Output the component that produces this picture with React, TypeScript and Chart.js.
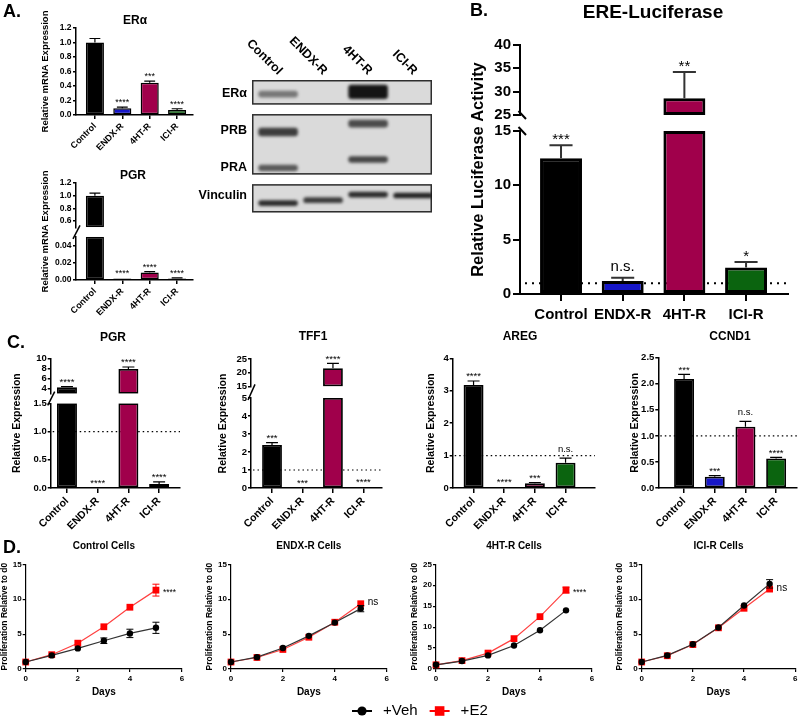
import React, { useEffect, useRef } from 'react';
import { Chart, registerables } from 'chart.js';

Chart.register(...registerables);

const FONT = '"Liberation Sans", Arial, Helvetica, sans-serif';
Chart.defaults.font.family = FONT;
Chart.defaults.color = '#000';

/* ---------------- data ---------------- */
const groups = ['Control', 'ENDX-R', '4HT-R', 'ICI-R'];
const groupColors = ['#000000', '#1616c8', '#a0004b', '#0b640f'];

// A - ERα mRNA
const eraMrna = [1.0, 0.092, 0.445, 0.069];
const eraMrnaErr = [0.055, 0.018, 0.022, 0.017];
const eraMrnaSig = ['', '****', '***', '****'];
const eraMrnaTicks = [0, 0.2, 0.4, 0.6, 0.8, 1.0, 1.2];
const eraMrnaTickLabels = ['0.0', '0.2', '0.4', '0.6', '0.8', '1.0', '1.2'];

// A - PGR mRNA (broken axis)
const pgrMrna = [1.0, 0.0016, 0.0088, 0.0018];
const pgrMrnaErr = [0.04, 0.0003, 0.0008, 0.0007];
const pgrMrnaSig = ['', '****', '****', '****'];
const pgrMrnaTicksHigh = [0.6, 0.8, 1.0, 1.2];
const pgrMrnaTickLabelsHigh = ['0.6', '0.8', '1.0', '1.2'];
const pgrMrnaTicksLow = [0, 0.02, 0.04];
const pgrMrnaTickLabelsLow = ['0.00', '0.02', '0.04'];

// A - western blot (migration units 0-100, top to bottom)
const blotRows = ['ERα', 'PRB', 'PRA', 'Vinculin'];
const blotRowPos = [10, 37.9, 65.7, 87.1];
const blotMembranes = [[0, 18.6], [25.7, 71.4], [78.6, 100]];
const blotEra = [[8.2, 13.2, 0.5], null, [3.6, 14.3, 1.0], null];
const blotPrb = [[36.1, 42.5, 0.8], null, [30.0, 35.8, 0.72], null];
const blotPra = [[63.9, 68.9, 0.65], null, [57.5, 62.5, 0.75], null];
const blotVinculin = [[90.7, 95.0, 0.88], [88.5, 92.9, 0.8], [84.3, 88.6, 0.88], [85.0, 89.3, 0.92]];

// B - ERE luciferase
const ereLuc = [12.5, 1.2, 28.6, 2.45];
const ereLucErr = [1.2, 0.3, 5.6, 0.5];
const ereLucSig = ['***', 'n.s.', '**', '*'];
const ereTicksHigh = [25, 30, 35, 40];
const ereTickLabelsHigh = ['25', '30', '35', '40'];
const ereTicksLow = [0, 5, 10, 15];
const ereTickLabelsLow = ['0', '5', '10', '15'];

// C - PGR
const cPgr = [4.26, 0.002, 7.88, 0.07];
const cPgrErr = [0.12, 0, 0.4, 0.04];
const cPgrSig = ['****', '****', '****', '****'];
const cPgrTicksHigh = [4, 6, 8, 10];
const cPgrTickLabelsHigh = ['4', '6', '8', '10'];
const cPgrTicksLow = [0, 0.5, 1.0, 1.5];
const cPgrTickLabelsLow = ['0.0', '0.5', '1.0', '1.5'];
// C - TFF1
const cTff1 = [2.39, 0.01, 21.6, 0.05];
const cTff1Err = [0.13, 0.003, 1.8, 0.01];
const cTff1Sig = ['***', '***', '****', '****'];
const cTff1TicksHigh = [15, 20, 25];
const cTff1TickLabelsHigh = ['15', '20', '25'];
const cTff1TicksLow = [0, 1, 2, 3, 4, 5];
const cTff1TickLabelsLow = ['0', '1', '2', '3', '4', '5'];
// C - AREG
const cAreg = [3.18, 0.03, 0.145, 0.78];
const cAregErr = [0.12, 0.005, 0.025, 0.14];
const cAregSig = ['****', '****', '***', 'n.s.'];
const cAregTicks = [0, 1, 2, 3, 4];
const cAregTickLabels = ['0', '1', '2', '3', '4'];
// C - CCND1
const cCcnd1 = [2.09, 0.217, 1.175, 0.568];
const cCcnd1Err = [0.09, 0.02, 0.105, 0.02];
const cCcnd1Sig = ['***', '***', 'n.s.', '****'];
const cCcnd1Ticks = [0, 0.5, 1.0, 1.5, 2.0, 2.5];
const cCcnd1TickLabels = ['0.0', '0.5', '1.0', '1.5', '2.0', '2.5'];

// D - proliferation
const days = [0, 1, 2, 3, 4, 5];
const dayTicks = [0, 2, 4, 6];
const seriesNames = ['+Veh', '+E2'];
const seriesColors = ['#000000', '#ff0000'];
const seriesLineColors = ['#333333', '#ff4040'];

const ctrlVeh = [1.0, 1.95, 2.95, 4.05, 5.1, 5.9];
const ctrlVehErr = [0.05, 0.1, 0.2, 0.4, 0.6, 0.8];
const ctrlE2 = [1.0, 2.05, 3.7, 6.05, 8.85, 11.3];
const ctrlE2Err = [0.05, 0.1, 0.15, 0.2, 0.3, 0.85];

const endxVeh = [1.0, 1.7, 3.0, 4.75, 6.65, 8.65];
const endxVehErr = [0.05, 0.1, 0.15, 0.15, 0.2, 0.45];
const endxE2 = [1.0, 1.65, 2.8, 4.55, 6.7, 9.35];
const endxE2Err = [0.05, 0.05, 0.1, 0.1, 0.15, 0.2];

const htVeh = [1.0, 1.9, 3.25, 5.6, 9.25, 14.0];
const htVehErr = [0.05, 0.1, 0.15, 0.2, 0.3, 0.5];
const htE2 = [1.0, 2.0, 3.8, 7.25, 12.5, 18.85];
const htE2Err = [0.05, 0.1, 0.15, 0.2, 0.3, 0.7];

const iciVeh = [1.0, 1.95, 3.55, 5.95, 9.1, 12.2];
const iciVehErr = [0.05, 0.1, 0.1, 0.15, 0.35, 0.6];
const iciE2 = [1.0, 1.9, 3.5, 5.9, 8.7, 11.45];
const iciE2Err = [0.05, 0.1, 0.1, 0.15, 0.2, 0.3];

const dTicks15 = [0, 5, 10, 15];
const dTicks25 = [0, 5, 10, 15, 20, 25];

/* ---------------- helpers ---------------- */
function T(ctx, s, x, y, size, o: any = {}) {
  ctx.save();
  ctx.translate(x, y);
  if (o.rot) ctx.rotate(o.rot);
  ctx.font = `${o.bold ? 'bold ' : ''}${size}px ${FONT}`;
  ctx.fillStyle = o.color || '#000';
  ctx.textAlign = o.align || 'center';
  ctx.textBaseline = o.base || 'middle';
  ctx.fillText(s, 0, 0);
  ctx.restore();
}

const baseOptions = {
  responsive: false,
  maintainAspectRatio: false,
  animation: false,
  devicePixelRatio: 1,
  events: [],
};

/* ---------------- bar panels ---------------- */
const A_STYLE = {
  barBorder: 1.5, titleSize: 12, yTitleSize: 9.5, tickSize: 8.5, xSize: 9, rotate: true,
  yTickLen: 3, xTickLen: 4, yPad: 1.5, xPad: 2, sigSize: 9, starGap: 2, nsGap: 6,
  errColor: '#000', errWidth: 1.2, capRatio: 0.6, breakStyle: 'single', axisWidth: 1.5,
  refLine: null, refDash: [1.5, 3], refWidth: 1.2, refStart: 2,
};
const C_STYLE = {
  barBorder: 1.8, titleSize: 12, yTitleSize: 10.5, tickSize: 9.5, xSize: 10.5, rotate: true,
  yTickLen: 3, xTickLen: 5, yPad: 1, xPad: 2, sigSize: 9.5, starGap: 1.5, nsGap: 6,
  errColor: '#000', errWidth: 1.2, capRatio: 0.6, breakStyle: 'single', axisWidth: 1.5,
  refLine: 1, refDash: [1.5, 3], refWidth: 1.2, refStart: 2, barPct: 0.65,
};

const barSpecs: any[] = [
  {
    ...A_STYLE, key: 'aEra', box: [20, 8, 180, 147], plot: [76, 28, 193, 115],
    segs: [{ min: 0, max: 1.2, ticks: eraMrnaTicks, labels: eraMrnaTickLabels, px: 87 }], gaps: [],
    values: eraMrna, errs: eraMrnaErr, sig: eraMrnaSig,
    xMin: -0.69, xMax: 3.58, barPct: 0.66,
    title: 'ERα', titleXY: [135, 21], yTitle: 'Relative mRNA Expression', yTitleX: 45,
  },
  {
    ...A_STYLE, key: 'aPgr', box: [20, 160, 180, 160], plot: [76, 183, 193, 280],
    segs: [
      { min: 0.5, max: 1.2, ticks: pgrMrnaTicksHigh, labels: pgrMrnaTickLabelsHigh, px: 44.5 },
      { min: 0, max: 0.05, ticks: pgrMrnaTicksLow, labels: pgrMrnaTickLabelsLow, px: 43.3 },
    ], gaps: [9.5],
    values: pgrMrna, errs: pgrMrnaErr, sig: pgrMrnaSig,
    xMin: -0.69, xMax: 3.58, barPct: 0.66,
    title: 'PGR', titleXY: [133, 176], yTitle: 'Relative mRNA Expression', yTitleX: 45,
  },
  {
    key: 'b', box: [455, 0, 345, 335], plot: [520, 45, 788, 294],
    segs: [
      { min: 25, max: 40, ticks: ereTicksHigh, labels: ereTickLabelsHigh, px: 70 },
      { min: 0, max: 15, ticks: ereTicksLow, labels: ereTickLabelsLow, px: 163 },
    ], gaps: [16],
    values: ereLuc, errs: ereLucErr, sig: ereLucSig,
    xMin: -0.665, xMax: 3.68, barPct: 0.68, barBorder: 3,
    title: 'ERE-Luciferase', titleXY: [653, 13], titleSize: 19,
    yTitle: 'Relative Luciferase Activity', yTitleX: 478, yTitleSize: 16.5,
    tickSize: 15, xSize: 15, rotate: false, yTickLen: 7, xTickLen: 7, yPad: 2, xPad: 5,
    sigSize: 15, starGap: 1, nsGap: 7, errColor: '#333', errWidth: 2, capRatio: 0.55,
    breakStyle: 'double', axisWidth: 2,
    refLine: 1, refDash: [2, 5], refWidth: 2, refStart: 5,
  },
  {
    ...C_STYLE, key: 'cPgr', box: [5, 325, 190, 210], plot: [50.7, 358.3, 180, 488],
    segs: [
      { min: 3, max: 10, ticks: cPgrTicksHigh, labels: cPgrTickLabelsHigh, px: 35.4 },
      { min: 0, max: 1.5, ticks: cPgrTicksLow, labels: cPgrTickLabelsLow, px: 84.7 },
    ], gaps: [9.6],
    values: cPgr, errs: cPgrErr, sig: cPgrSig, xMin: -0.53, xMax: 3.68,
    title: 'PGR', titleXY: [113, 337.5], yTitle: 'Relative Expression', yTitleX: 17,
  },
  {
    ...C_STYLE, key: 'cTff1', box: [200, 325, 195, 210], plot: [251, 359, 382, 488],
    segs: [
      { min: 15, max: 25, ticks: cTff1TicksHigh, labels: cTff1TickLabelsHigh, px: 27.4 },
      { min: 0, max: 5, ticks: cTff1TicksLow, labels: cTff1TickLabelsLow, px: 90 },
    ], gaps: [11.6],
    values: cTff1, errs: cTff1Err, sig: cTff1Sig, xMin: -0.69, xMax: 3.61,
    title: 'TFF1', titleXY: [313, 337], yTitle: 'Relative Expression', yTitleX: 223,
  },
  {
    ...C_STYLE, key: 'cAreg', box: [400, 325, 200, 210], plot: [452.7, 358.3, 595, 488],
    segs: [{ min: 0, max: 4, ticks: cAregTicks, labels: cAregTickLabels, px: 129.7 }], gaps: [],
    values: cAreg, errs: cAregErr, sig: cAregSig, xMin: -0.68, xMax: 3.96,
    title: 'AREG', titleXY: [520, 337], yTitle: 'Relative Expression', yTitleX: 431,
  },
  {
    ...C_STYLE, key: 'cCcnd1', box: [600, 325, 200, 210], plot: [658.3, 357.7, 797, 488],
    segs: [{ min: 0, max: 2.5, ticks: cCcnd1Ticks, labels: cCcnd1TickLabels, px: 130.3 }], gaps: [],
    values: cCcnd1, errs: cCcnd1Err, sig: cCcnd1Sig, xMin: -0.84, xMax: 3.68,
    title: 'CCND1', titleXY: [730, 337], yTitle: 'Relative Expression', yTitleX: 635,
  },
];

function barPlugin(sp) {
  const [cx, cy] = sp.box;
  const n = sp.segs.length;
  const segOf = (v) => {
    for (let s = 0; s < n - 1; s++) if (v > sp.segs[s].min) return s;
    return n - 1;
  };
  const yPix = (chart, v, s) => chart.scales['y' + s].getPixelForValue(Math.min(v, sp.segs[s].max));
  return {
    id: 'bar-' + sp.key,
    beforeDatasetsDraw(chart) {
      if (sp.refLine == null) return;
      const { ctx, chartArea } = chart;
      const y = yPix(chart, sp.refLine, segOf(sp.refLine));
      ctx.save();
      ctx.strokeStyle = '#000';
      ctx.lineWidth = sp.refWidth;
      ctx.setLineDash(sp.refDash);
      ctx.beginPath();
      ctx.moveTo(chartArea.left + sp.refStart, y);
      ctx.lineTo(chartArea.right, y);
      ctx.stroke();
      ctx.restore();
    },
    afterDatasetsDraw(chart) {
      const { ctx } = chart;
      const xs = chart.scales.x;
      const barW = (xs.getPixelForValue(1) - xs.getPixelForValue(0)) * sp.barPct;
      sp.values.forEach((v, i) => {
        const s = segOf(v);
        const x = xs.getPixelForValue(i);
        const y0 = yPix(chart, v, s);
        const y1 = yPix(chart, v + sp.errs[i], s);
        if (y0 - y1 > 0.6) {
          const hw = (barW * sp.capRatio) / 2;
          ctx.save();
          ctx.strokeStyle = sp.errColor;
          ctx.lineWidth = sp.errWidth;
          ctx.beginPath();
          ctx.moveTo(x, y0);
          ctx.lineTo(x, y1);
          ctx.moveTo(x - hw, y1);
          ctx.lineTo(x + hw, y1);
          ctx.stroke();
          ctx.restore();
        }
        const lab = sp.sig[i];
        if (lab) {
          const gap = lab[0] === '*' ? sp.starGap : sp.nsGap;
          T(ctx, lab, x, y1 - gap, sp.sigSize, { base: 'alphabetic' });
        }
      });
    },
    afterDraw(chart) {
      const { ctx, chartArea } = chart;
      T(ctx, sp.title, sp.titleXY[0] - cx, sp.titleXY[1] - cy, sp.titleSize, { bold: true });
      T(ctx, sp.yTitle, sp.yTitleX - cx, (chartArea.top + chartArea.bottom) / 2, sp.yTitleSize, {
        bold: true, rot: -Math.PI / 2,
      });
      for (let s = 0; s < n - 1; s++) {
        const up = chart.scales['y' + s].bottom;
        const lo = chart.scales['y' + (s + 1)].top;
        const x = chartArea.left;
        ctx.save();
        ctx.strokeStyle = '#000';
        ctx.lineWidth = sp.axisWidth;
        ctx.beginPath();
        if (sp.breakStyle === 'single') {
          ctx.moveTo(x - 3, lo + 2);
          ctx.lineTo(x + 4, up - 2);
        } else {
          ctx.moveTo(x - 1.5, up - 4);
          ctx.lineTo(x + 6, up + 4);
          ctx.moveTo(x - 1.5, lo - 4);
          ctx.lineTo(x + 6, lo + 4);
        }
        ctx.stroke();
        ctx.restore();
      }
    },
  };
}

function barConfig(sp) {
  const [cx, cy, cw, ch] = sp.box;
  const [pl, pt, pr, pb] = sp.plot;
  const n = sp.segs.length;
  const ids: string[] = [];
  sp.segs.forEach((_, s) => {
    ids.push('y' + s);
    if (s < n - 1) ids.push('g' + s);
  });
  const scales: any = {
    x: {
      type: 'linear', axis: 'x', position: 'bottom', min: sp.xMin, max: sp.xMax, offset: false,
      afterBuildTicks: (ax) => { ax.ticks = groups.map((_, i) => ({ value: i })); },
      afterFit: (ax) => { ax.height = cy + ch - pb; },
      ticks: {
        autoSkip: false, maxRotation: sp.rotate ? 45 : 0, minRotation: sp.rotate ? 45 : 0,
        padding: sp.xPad, color: '#000', font: { size: sp.xSize, weight: 'bold' },
        callback: (v) => groups[v] ?? '',
      },
      grid: {
        display: true, drawOnChartArea: false, drawTicks: true, tickLength: sp.xTickLen,
        color: '#000', lineWidth: sp.axisWidth, offset: false,
      },
      border: { display: true, color: '#000', width: sp.axisWidth },
    },
  };
  ids.forEach((id, k) => {
    const s = Number(id.slice(1));
    const isGap = id[0] === 'g';
    const common: any = {
      type: 'linear', axis: 'y', position: 'left', weight: ids.length - k,
      afterFit: (ax) => { ax.width = pl - cx; },
    };
    if (n > 1) {
      common.stack = 'v';
      common.stackWeight = isGap ? sp.gaps[s] : sp.segs[s].px;
    }
    if (isGap) {
      scales[id] = {
        ...common, min: 0, max: 1,
        ticks: { display: false }, grid: { display: false, drawTicks: false }, border: { display: false },
      };
    } else {
      const seg = sp.segs[s];
      scales[id] = {
        ...common, min: seg.min, max: seg.max,
        afterBuildTicks: (ax) => { ax.ticks = seg.ticks.map((v) => ({ value: v })); },
        ticks: {
          color: '#000', font: { size: sp.tickSize, weight: 'bold' }, padding: sp.yPad,
          autoSkip: false, callback: (_v, i) => seg.labels[i],
        },
        grid: {
          display: true, drawOnChartArea: false, drawTicks: true, tickLength: sp.yTickLen,
          color: '#000', lineWidth: sp.axisWidth,
        },
        border: { display: true, color: '#000', width: sp.axisWidth },
      };
    }
  });
  const datasets = sp.segs.map((seg, s) => {
    const last = s === n - 1;
    const pts: any[] = [];
    const cols: string[] = [];
    sp.values.forEach((v, i) => {
      if (last) {
        pts.push({ x: i, y: Math.min(v, seg.max) });
        cols.push(groupColors[i]);
      } else if (v > seg.min) {
        pts.push({ x: i, y: [seg.min, Math.min(v, seg.max)] });
        cols.push(groupColors[i]);
      }
    });
    return {
      type: 'bar', xAxisID: 'x', yAxisID: 'y' + s, data: pts,
      backgroundColor: cols, borderColor: '#000', borderWidth: sp.barBorder, borderSkipped: false,
      grouped: false, barPercentage: sp.barPct, categoryPercentage: 1,
    };
  });
  return {
    type: 'bar',
    data: { datasets },
    options: {
      ...baseOptions,
      layout: { padding: { left: 0, top: pt - cy, right: cx + cw - pr, bottom: 0 } },
      plugins: { legend: { display: false }, tooltip: { enabled: false }, title: { display: false } },
      scales,
    },
    plugins: [barPlugin(sp)],
  };
}

/* ---------------- western blot ---------------- */
const blotBox = [195, 30, 245, 195];
const blotPlot = [252, 80, 432, 220];

function blotConfig() {
  const [cx, cy, cw, ch] = blotBox;
  const [pl, pt, pr, pb] = blotPlot;
  const bandRows = [blotEra, blotPrb, blotPra, blotVinculin];
  const datasets = bandRows.map((row, r) => {
    const pts: any[] = [];
    const cols: string[] = [];
    row.forEach((b, i) => {
      if (!b) return;
      pts.push({ x: i, y: [b[0], b[1]] });
      cols.push(`rgba(20,20,20,${b[2]})`);
    });
    return {
      type: 'bar', label: blotRows[r], data: pts, backgroundColor: cols,
      borderWidth: 0, borderRadius: 3, borderSkipped: false, grouped: false,
      barPercentage: 0.88, categoryPercentage: 1,
    };
  });
  const plugin = {
    id: 'blot',
    beforeDatasetsDraw(chart) {
      const { ctx, chartArea } = chart;
      const ys = chart.scales.y;
      blotMembranes.forEach(([a, b]) => {
        const y0 = ys.getPixelForValue(a);
        const y1 = ys.getPixelForValue(b);
        ctx.save();
        ctx.fillStyle = '#dadada';
        ctx.strokeStyle = '#2e2e2e';
        ctx.lineWidth = 1.5;
        ctx.fillRect(chartArea.left, y0, chartArea.right - chartArea.left, y1 - y0);
        ctx.strokeRect(chartArea.left + 0.75, y0 + 0.75, chartArea.right - chartArea.left - 1.5, y1 - y0 - 1.5);
        ctx.restore();
      });
      ctx.save();
      ctx.filter = 'blur(1.4px)';
    },
    afterDatasetsDraw(chart) {
      chart.ctx.restore();
    },
    afterDraw(chart) {
      const { ctx, chartArea } = chart;
      const xs = chart.scales.x;
      groups.forEach((g, i) => {
        T(ctx, g, xs.getPixelForValue(i) + 2, chartArea.top - 7, 12.5, {
          bold: true, align: 'right', rot: Math.PI / 4,
        });
      });
    },
  };
  return {
    type: 'bar',
    data: { datasets },
    options: {
      ...baseOptions,
      layout: { padding: { left: 0, top: pt - cy, right: cx + cw - pr, bottom: cy + ch - pb } },
      plugins: { legend: { display: false }, tooltip: { enabled: false } },
      scales: {
        x: {
          type: 'linear', display: false, min: -0.58, max: 3.42, offset: false,
          afterBuildTicks: (ax) => { ax.ticks = groups.map((_, i) => ({ value: i })); },
        },
        y: {
          type: 'linear', position: 'left', reverse: true, min: 0, max: 100,
          afterFit: (ax) => { ax.width = pl - cx; },
          afterBuildTicks: (ax) => { ax.ticks = blotRowPos.map((v) => ({ value: v })); },
          ticks: {
            autoSkip: false, color: '#000', padding: 5, font: { size: 12.5, weight: 'bold' },
            callback: (_v, i) => blotRows[i],
          },
          grid: { display: false, drawTicks: false },
          border: { display: false },
        },
      },
    },
    plugins: [plugin],
  };
}

/* ---------------- D line panels ---------------- */
const lineSpecs: any[] = [
  { key: 'dCtrl', box: [0, 535, 200, 165], plot: [25.7, 564.3, 182, 669], yMax: 15, yTicks: dTicks15,
    veh: ctrlVeh, vehErr: ctrlVehErr, e2: ctrlE2, e2Err: ctrlE2Err,
    title: 'Control Cells', yTitleX: 5, sig: '****', sigY: 11.3 },
  { key: 'dEndx', box: [200, 535, 200, 165], plot: [231, 564.3, 386.7, 669], yMax: 15, yTicks: dTicks15,
    veh: endxVeh, vehErr: endxVehErr, e2: endxE2, e2Err: endxE2Err,
    title: 'ENDX-R Cells', yTitleX: 210, sig: 'ns', sigY: 9.5 },
  { key: 'dHt', box: [400, 535, 200, 165], plot: [436, 564.3, 592, 669], yMax: 25, yTicks: dTicks25,
    veh: htVeh, vehErr: htVehErr, e2: htE2, e2Err: htE2Err,
    title: '4HT-R Cells', yTitleX: 415, sig: '****', sigY: 18.85 },
  { key: 'dIci', box: [600, 535, 200, 165], plot: [641.7, 564.3, 798.3, 669], yMax: 15, yTicks: dTicks15,
    veh: iciVeh, vehErr: iciVehErr, e2: iciE2, e2Err: iciE2Err,
    title: 'ICI-R Cells', yTitleX: 620, sig: 'ns', sigY: 11.6 },
];

function linePlugin(sp) {
  const [cx, cy] = sp.box;
  return {
    id: 'line-' + sp.key,
    afterDatasetsDraw(chart) {
      const { ctx } = chart;
      const xs = chart.scales.x;
      const ys = chart.scales.y;
      const series = [[sp.veh, sp.vehErr], [sp.e2, sp.e2Err]];
      series.forEach(([vals, errs], k) => {
        ctx.save();
        ctx.strokeStyle = seriesColors[k];
        ctx.lineWidth = 1;
        vals.forEach((v, i) => {
          const e = errs[i];
          const x = xs.getPixelForValue(days[i]);
          const ya = ys.getPixelForValue(v - e);
          const yb = ys.getPixelForValue(v + e);
          if (ya - yb < 5) return;
          ctx.beginPath();
          ctx.moveTo(x, ya); ctx.lineTo(x, yb);
          ctx.moveTo(x - 3.5, ya); ctx.lineTo(x + 3.5, ya);
          ctx.moveTo(x - 3.5, yb); ctx.lineTo(x + 3.5, yb);
          ctx.stroke();
        });
        ctx.restore();
      });
      const size = sp.sig[0] === '*' ? 8.5 : 10;
      const x = xs.getPixelForValue(days[days.length - 1]) + 7;
      const y = ys.getPixelForValue(sp.sigY) + (sp.sig[0] === '*' ? 0.57 : 0.27) * size;
      T(ctx, sp.sig, x, y, size, { align: 'left', base: 'alphabetic' });
    },
    afterDraw(chart) {
      const { ctx, chartArea } = chart;
      const mid = (chartArea.left + chartArea.right) / 2;
      T(ctx, sp.title, mid, 546.7 - cy, 10, { bold: true });
      T(ctx, 'Days', mid, 692 - cy, 10, { bold: true });
      T(ctx, 'Proliferation Relative to d0', sp.yTitleX - cx, (chartArea.top + chartArea.bottom) / 2, 8.5, {
        bold: true, rot: -Math.PI / 2,
      });
    },
  };
}

function lineConfig(sp) {
  const [cx, cy, cw, ch] = sp.box;
  const [pl, pt, pr, pb] = sp.plot;
  const mk = (vals, k) => ({
    type: 'line', label: seriesNames[k],
    data: days.map((d, i) => ({ x: d, y: vals[i] })),
    borderColor: seriesLineColors[k], borderWidth: 1.2,
    pointStyle: k === 0 ? 'circle' : 'rect', pointRadius: k === 0 ? 3.2 : 4.8,
    pointBackgroundColor: seriesColors[k], pointBorderColor: seriesColors[k], pointBorderWidth: 0,
    tension: 0, clip: false,
  });
  const axisCommon = {
    grid: { display: true, drawOnChartArea: false, drawTicks: true, tickLength: 3, color: '#000', lineWidth: 1.2 },
    border: { display: true, color: '#000', width: 1.2 },
  };
  return {
    type: 'line',
    data: { datasets: [mk(sp.veh, 0), mk(sp.e2, 1)] },
    options: {
      ...baseOptions,
      layout: { padding: { left: 0, top: pt - cy, right: cx + cw - pr, bottom: 0 } },
      plugins: { legend: { display: false }, tooltip: { enabled: false } },
      scales: {
        x: {
          ...axisCommon, type: 'linear', min: 0, max: 6,
          afterBuildTicks: (ax) => { ax.ticks = dayTicks.map((v) => ({ value: v })); },
          afterFit: (ax) => { ax.height = cy + ch - pb; },
          ticks: { autoSkip: false, maxRotation: 0, padding: 2, color: '#000', font: { size: 8, weight: 'bold' }, callback: (v) => String(v) },
        },
        y: {
          ...axisCommon, type: 'linear', min: 0, max: sp.yMax,
          afterBuildTicks: (ax) => { ax.ticks = sp.yTicks.map((v) => ({ value: v })); },
          afterFit: (ax) => { ax.width = pl - cx; },
          ticks: { autoSkip: false, padding: 1, color: '#000', font: { size: 8, weight: 'bold' }, callback: (v) => String(v) },
        },
      },
    },
    plugins: [linePlugin(sp)],
  };
}

/* ---------------- legend ---------------- */
const legendBox = [330, 698, 180, 22];
function legendConfig() {
  const [cx, cy] = legendBox;
  const plugin = {
    id: 'legendDraw',
    afterDraw(chart) {
      const { ctx } = chart;
      let x = 352 - cx;
      const y = 711 - cy;
      chart.data.datasets.forEach((ds, k) => {
        ctx.save();
        ctx.strokeStyle = ds.borderColor;
        ctx.fillStyle = ds.pointBackgroundColor;
        ctx.lineWidth = 2;
        ctx.beginPath();
        ctx.moveTo(x, y);
        ctx.lineTo(x + 20, y);
        ctx.stroke();
        ctx.beginPath();
        if (ds.pointStyle === 'circle') ctx.arc(x + 10, y, 4.6, 0, Math.PI * 2);
        else ctx.rect(x + 10 - 4.8, y - 4.8, 9.6, 9.6);
        ctx.fill();
        ctx.restore();
        ctx.font = `15px ${FONT}`;
        const w = ctx.measureText(ds.label).width;
        T(ctx, ds.label, x + 31, y, 15, { align: 'left' });
        x += 31 + w + 12;
      });
    },
  };
  return {
    type: 'line',
    data: {
      datasets: seriesNames.map((nm, k) => ({
        label: nm, data: [], borderColor: seriesColors[k], pointBackgroundColor: seriesColors[k],
        pointStyle: k === 0 ? 'circle' : 'rect',
      })),
    },
    options: {
      ...baseOptions,
      plugins: { legend: { display: false }, tooltip: { enabled: false } },
      scales: { x: { display: false }, y: { display: false } },
    },
    plugins: [plugin],
  };
}

/* ---------------- app ---------------- */
const PANELS: any[] = [
  ...barSpecs.map((s) => ({ key: s.key, box: s.box, make: () => barConfig(s) })),
  { key: 'blot', box: blotBox, make: blotConfig },
  ...lineSpecs.map((s) => ({ key: s.key, box: s.box, make: () => lineConfig(s) })),
  { key: 'legend', box: legendBox, make: legendConfig },
];

const panelLetters = [
  { t: 'A.', x: 3, y: 1.5 },
  { t: 'B.', x: 470, y: 1 },
  { t: 'C.', x: 7, y: 332.5 },
  { t: 'D.', x: 3, y: 537.5 },
];

export default function App() {
  const refs = useRef<Record<string, HTMLCanvasElement | null>>({});
  useEffect(() => {
    const charts: Chart[] = [];
    PANELS.forEach((p) => {
      const el = refs.current[p.key];
      if (el) charts.push(new Chart(el, p.make()));
    });
    return () => charts.forEach((c) => c.destroy());
  }, []);
  return (
    <div style={{ position: 'absolute', left: 0, top: 0, width: 800, height: 720, background: '#fff', overflow: 'hidden' }}>
      {PANELS.map((p) => (
        <canvas
          key={p.key}
          ref={(el) => { refs.current[p.key] = el; }}
          width={p.box[2]}
          height={p.box[3]}
          style={{ position: 'absolute', left: p.box[0], top: p.box[1], width: p.box[2], height: p.box[3] }}
        />
      ))}
      {panelLetters.map((l) => (
        <div
          key={l.t}
          style={{
            position: 'absolute', left: l.x, top: l.y, fontFamily: FONT, fontWeight: 'bold',
            fontSize: 18, lineHeight: '18px', color: '#000', whiteSpace: 'nowrap',
          }}
        >
          {l.t}
        </div>
      ))}
    </div>
  );
}
